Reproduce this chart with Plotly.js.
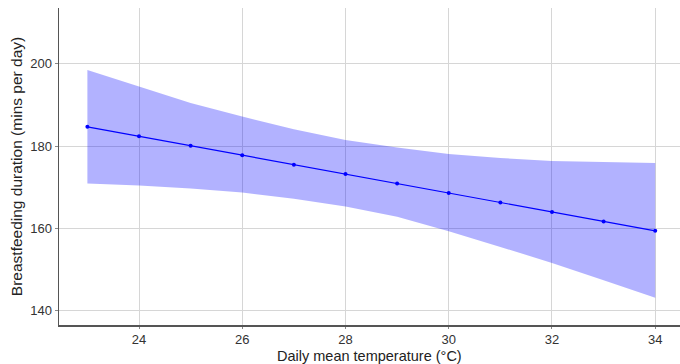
<!DOCTYPE html>
<html><head><meta charset="utf-8">
<script src="https://cdn.plot.ly/plotly-3.0.1.min.js"></script>
<style>body{margin:0;background:#fff}#chart{width:680px;height:364px}</style>
</head><body><div id="chart"></div>
<script>
var temperature = [23, 24, 25, 26, 27, 28, 29, 30, 31, 32, 33, 34];
var duration = [184.7, 182.4, 180.1, 177.8, 175.5, 173.2, 170.9, 168.6, 166.3, 164.0, 161.7, 159.4];
var upperCI = [198.5, 194.5, 190.5, 187.2, 184.1, 181.5, 179.7, 178.1, 177.1, 176.4, 176.1, 175.9];
var lowerCI = [170.9, 170.4, 169.7, 168.7, 167.2, 165.3, 162.8, 159.3, 155.5, 151.6, 147.4, 143.1];

var traces = [
  {x: temperature, y: lowerCI, type: 'scatter', mode: 'lines', line: {width: 0, color: 'rgba(0,0,255,0)'}, hoverinfo: 'skip', showlegend: false},
  {x: temperature, y: upperCI, type: 'scatter', mode: 'lines', fill: 'tonexty', fillcolor: 'rgba(0,0,255,0.3)', line: {width: 0, color: 'rgba(0,0,255,0)'}, hoverinfo: 'skip', showlegend: false},
  {x: temperature, y: duration, type: 'scatter', mode: 'lines+markers', line: {color: '#0000ff', width: 1.2}, marker: {color: '#0000ff', size: 4}, showlegend: false}
];

var fam = 'Liberation Sans, Arial, sans-serif';
var axisFont = {family: fam, size: 13, color: '#333333'};
var titleFont = {family: fam, size: 14.5, color: '#222222'};
var layout = {
  width: 680, height: 364,
  margin: {l: 59, r: 0, t: 8, b: 39},
  paper_bgcolor: '#ffffff', plot_bgcolor: '#ffffff',
  showlegend: false,
  xaxis: {
    range: [22.45, 34.48],
    tickvals: [24, 26, 28, 30, 32, 34],
    ticktext: ['24', '26', '28', '30', '32', '34'],
    showgrid: true, gridcolor: '#d6d6d6', gridwidth: 1,
    zeroline: false,
    showline: true, linecolor: '#555555', linewidth: 1.5,
    ticks: 'outside', ticklen: 2, tickcolor: '#888888',
    tickfont: axisFont
  },
  yaxis: {
    range: [136.5, 213.6],
    tickvals: [140, 160, 180, 200],
    ticktext: ['140', '160', '180', '200'],
    showgrid: true, gridcolor: '#d6d6d6', gridwidth: 1,
    zeroline: false,
    showline: true, linecolor: '#555555', linewidth: 1.5,
    ticks: 'outside', ticklen: 3, tickcolor: '#888888',
    tickfont: axisFont,
    title: {text: 'Breastfeeding duration (mins per day)', font: {family: fam, size: 15.5, color: '#222222'}, standoff: 4}
  },
  annotations: [{
    text: 'Daily mean temperature (°C)', font: titleFont,
    xref: 'paper', yref: 'paper', x: 0.5, y: 0,
    xanchor: 'center', yanchor: 'top', yshift: -22,
    showarrow: false, borderpad: 0
  }]
};
Plotly.newPlot('chart', traces, layout, {displayModeBar: false, staticPlot: true});
</script></body></html>
